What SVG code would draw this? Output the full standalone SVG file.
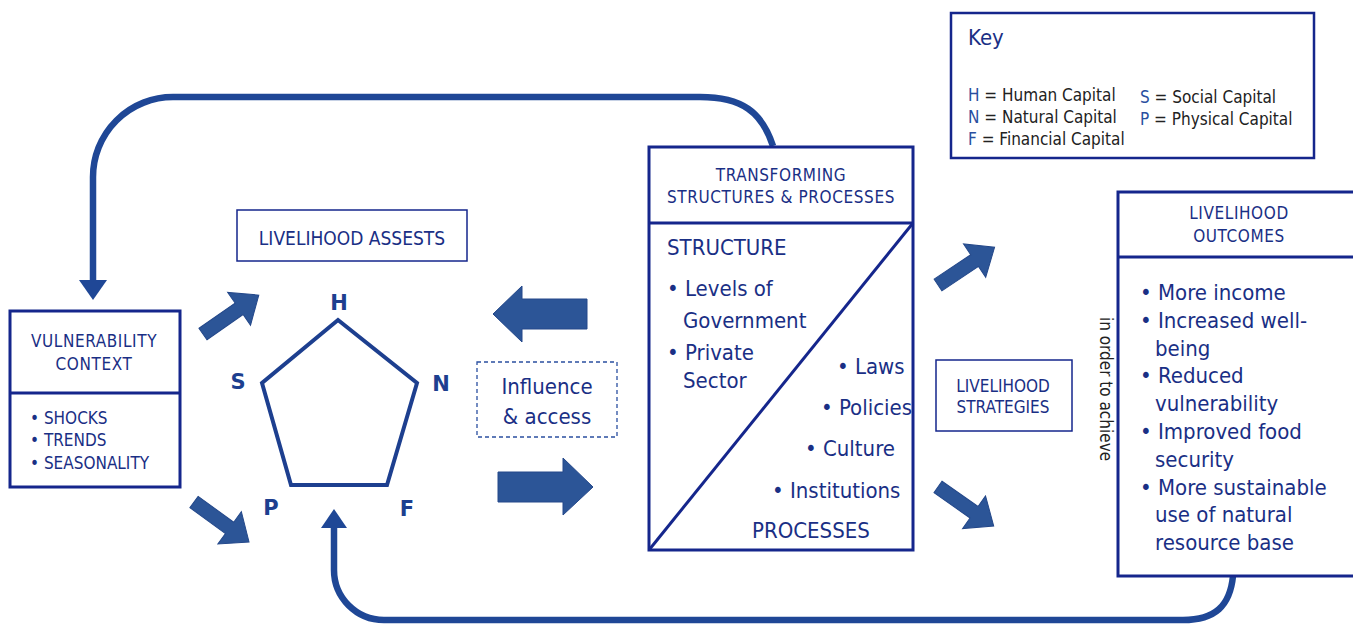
<svg xmlns="http://www.w3.org/2000/svg" width="1353" height="624" viewBox="0 0 1353 624">
<style>
.box{fill:none;stroke:#15268c;stroke-width:3}
.thin{fill:none;stroke:#15268c;stroke-width:1.5}
.t{font-family:"Liberation Sans Narrow","DejaVu Sans Condensed","Liberation Sans",sans-serif;fill:#1a2f85}
.s17{font-size:17px}
.s22{font-size:22px}
.hd{letter-spacing:0.6px}
.lab{font-family:"DejaVu Sans","Liberation Sans",Arial,sans-serif;font-weight:bold;font-size:21px;fill:#1d3f8f;text-anchor:middle}
.k{fill:#222}
.kb{fill:#2a4fa0}
.conn{fill:none;stroke:#1f4796;stroke-width:6.5}
.blk{fill:#2c5597;stroke:#24488a;stroke-width:1}
</style>
<defs>
<path id="darrow" d="M0,-7 L44,-7 L44,-20 L68,0 L44,20 L44,7 L0,7 Z"/>
</defs>

<g id="connectors">
<path class="conn" d="M 773 146 C 762 112, 742 97, 700 97 L 173 97 A 80 80 0 0 0 93 177 L 93 283"/>
<polygon points="79,280 107,280 93,300" fill="#1f4796"/>
<path class="conn" d="M 1233 576 C 1230 606, 1215 620, 1183 620 L 384 620 A 50 50 0 0 1 334 570 L 334 524"/>
<polygon points="321,528 347,528 334,509" fill="#1f4796"/>
<use href="#darrow" class="blk" transform="translate(203,334) rotate(-34.9)"/>
<use href="#darrow" class="blk" transform="translate(194,502) rotate(36)"/>
<use href="#darrow" class="blk" transform="translate(938,285) rotate(-33.7)"/>
<use href="#darrow" class="blk" transform="translate(938,487) rotate(35)"/>
<polygon class="blk" points="493,314 522,286 522,299 587,299 587,329 522,329 522,342"/>
<polygon class="blk" points="498,472 563,472 563,458 593,487 563,515 563,502 498,502"/>
</g>

<g id="vulnerability">
<rect class="box" x="10" y="311" width="170" height="176"/>
<line class="box" x1="10" y1="393" x2="180" y2="393"/>
<text class="t s17 hd" x="94" y="347" text-anchor="middle">VULNERABILITY</text>
<text class="t s17 hd" x="94" y="370" text-anchor="middle">CONTEXT</text>
<text class="t s17" x="30" y="424">• SHOCKS</text>
<text class="t s17" x="30" y="446">• TRENDS</text>
<text class="t s17" x="30" y="469">• SEASONALITY</text>
</g>

<g id="assets">
<rect class="thin" x="237" y="210" width="230" height="51"/>
<text class="t" font-size="19" x="352" y="245" text-anchor="middle">LIVELIHOOD ASSESTS</text>
</g>

<g id="pentagon">
<polygon points="338,320 417,383 387,485 291,485 262,383" fill="none" stroke="#1d3f8f" stroke-width="4" stroke-linejoin="miter"/>
<text class="lab" x="339" y="310">H</text>
<text class="lab" x="238" y="389">S</text>
<text class="lab" x="441" y="391">N</text>
<text class="lab" x="271" y="515">P</text>
<text class="lab" x="407" y="516">F</text>
</g>

<g id="influence">
<rect x="477" y="362" width="140" height="75" fill="none" stroke="#2a4fa0" stroke-width="1.3" stroke-dasharray="4,3"/>
<text class="t s22" x="547" y="394" text-anchor="middle">Influence</text>
<text class="t s22" x="547" y="424" text-anchor="middle">&amp; access</text>
</g>

<g id="transforming">
<rect class="box" x="649" y="147" width="264" height="403"/>
<line class="box" x1="649" y1="223" x2="913" y2="223"/>
<line class="box" x1="913" y1="223" x2="649" y2="550"/>
<text class="t s17 hd" x="781" y="181" text-anchor="middle">TRANSFORMING</text>
<text class="t s17 hd" x="781" y="203" text-anchor="middle">STRUCTURES &amp; PROCESSES</text>
<text class="t s22" x="667" y="255">STRUCTURE</text>
<text class="t s22" x="667" y="296">• Levels of</text>
<text class="t s22" x="683" y="328">Government</text>
<text class="t s22" x="667" y="360">• Private</text>
<text class="t s22" x="683" y="388">Sector</text>
<text class="t s22" x="837" y="374">• Laws</text>
<text class="t s22" x="821" y="415">• Policies</text>
<text class="t s22" x="805" y="456">• Culture</text>
<text class="t s22" x="772" y="498">• Institutions</text>
<text class="t s22" x="752" y="538">PROCESSES</text>
</g>

<g id="key">
<rect x="951" y="13" width="363" height="145" fill="none" stroke="#15268c" stroke-width="2.5"/>
<text class="t s22" x="968" y="45">Key</text>
<text class="t s17" x="968" y="101"><tspan class="kb">H</tspan><tspan class="k"> = Human Capital</tspan></text>
<text class="t s17" x="968" y="123"><tspan class="kb">N</tspan><tspan class="k"> = Natural Capital</tspan></text>
<text class="t s17" x="968" y="145"><tspan class="kb">F</tspan><tspan class="k"> = Financial Capital</tspan></text>
<text class="t s17" x="1140" y="103"><tspan class="kb">S</tspan><tspan class="k"> = Social Capital</tspan></text>
<text class="t s17" x="1140" y="125"><tspan class="kb">P</tspan><tspan class="k"> = Physical Capital</tspan></text>
</g>

<g id="strategies">
<rect class="thin" x="936" y="360" width="136" height="71"/>
<text class="t s17" x="1003" y="392" text-anchor="middle">LIVELIHOOD</text>
<text class="t s17" x="1003" y="413" text-anchor="middle">STRATEGIES</text>
</g>

<text class="t s17" x="1100" y="389" text-anchor="middle" style="fill:#222" transform="rotate(90 1100 389)">in order to achieve</text>

<g id="outcomes">
<rect class="box" x="1118" y="192" width="250" height="384"/>
<line class="box" x1="1118" y1="257" x2="1360" y2="257"/>
<text class="t s17 hd" x="1239" y="219" text-anchor="middle">LIVELIHOOD</text>
<text class="t s17 hd" x="1239" y="242" text-anchor="middle">OUTCOMES</text>
<text class="t s22" x="1140" y="300">• More income</text>
<text class="t s22" x="1140" y="328">• Increased well-</text>
<text class="t s22" x="1155" y="356">being</text>
<text class="t s22" x="1140" y="383">• Reduced</text>
<text class="t s22" x="1155" y="411">vulnerability</text>
<text class="t s22" x="1140" y="439">• Improved food</text>
<text class="t s22" x="1155" y="467">security</text>
<text class="t s22" x="1140" y="495">• More sustainable</text>
<text class="t s22" x="1155" y="522">use of natural</text>
<text class="t s22" x="1155" y="550">resource base</text>
</g>
</svg>
